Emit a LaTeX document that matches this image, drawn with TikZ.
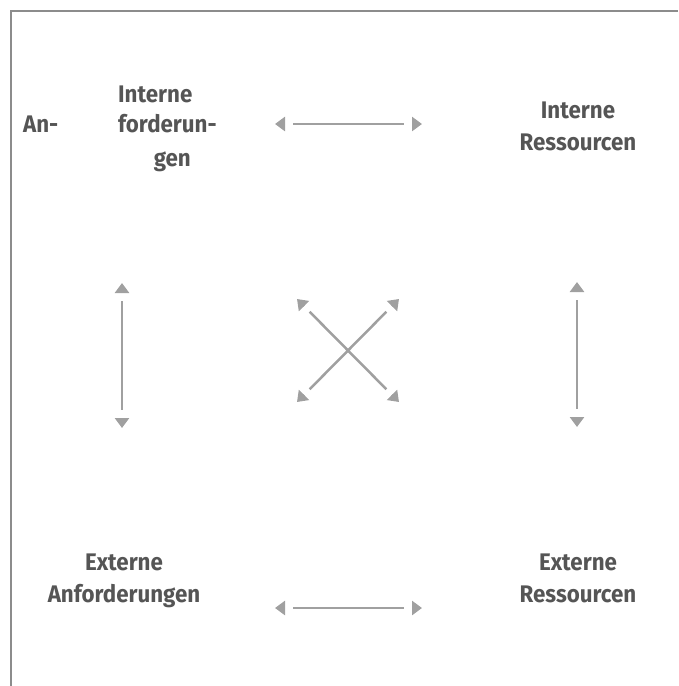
\documentclass[tikz,border=0pt]{standalone}
\usepackage{fontspec}
\setmainfont{Fira Sans}[FakeStretch=0.93]
\usetikzlibrary{arrows.meta,calc}
\definecolor{txtgray}{HTML}{555555}
\definecolor{arrgray}{HTML}{A0A0A0}
\definecolor{framegray}{HTML}{8C8C8C}
\newcommand\myBiArrow[2]{%
  \draw[conn] (#1) -- (#2);
  \draw[headtip] ($(#1)!10pt!(#2)$) -- (#1);
  \draw[headtip] ($(#2)!10pt!(#1)$) -- (#2);}
\begin{document}
\begin{tikzpicture}[x=1pt,y=-1pt,
  lbl/.style={font=\fontsize{24}{32}\selectfont\bfseries, text=txtgray, inner sep=0pt, align=center},
  conn/.style={draw=arrgray, line width=2.5pt, shorten <=18pt, shorten >=18pt},
  headtip/.style={draw=arrgray, line width=2.5pt, -{Triangle[length=10pt,width=14pt]}}]
\useasboundingbox (0,0) rectangle (678,686);
\draw[framegray, line width=2pt] (11,686) -- (11,11) -- (678,11);
% labels
\node[lbl, anchor=base west] (an) at (23,132) {An-};
\node[lbl, anchor=base west] (ia1) at (118,102) {Interne};
\node[lbl, anchor=base west] (ia2) at (118,132) {forderun-};
\node[lbl, anchor=base east] (ia3) at (191,166) {gen};
\node[lbl, anchor=base] (ir) at (578,150) {Interne\\Ressourcen};
\node[lbl, anchor=base] (ea) at (124,602) {Externe\\Anforderungen};
\node[lbl, anchor=base] (er) at (578,602) {Externe\\Ressourcen};
% arrow ends
\coordinate (t1) at (275,124); \coordinate (t2) at (422,124);
\coordinate (b1) at (275,608); \coordinate (b2) at (422,608);
\coordinate (l1) at (122,283); \coordinate (l2) at (122,428);
\coordinate (r1) at (577,282); \coordinate (r2) at (577,427);
\coordinate (d1) at (297,299); \coordinate (d2) at (399,402);
\coordinate (d3) at (399,299); \coordinate (d4) at (297,402);
\myBiArrow{t1}{t2}
\myBiArrow{b1}{b2}
\myBiArrow{l1}{l2}
\myBiArrow{r1}{r2}
\myBiArrow{d1}{d2}
\myBiArrow{d3}{d4}
\end{tikzpicture}
\end{document}
